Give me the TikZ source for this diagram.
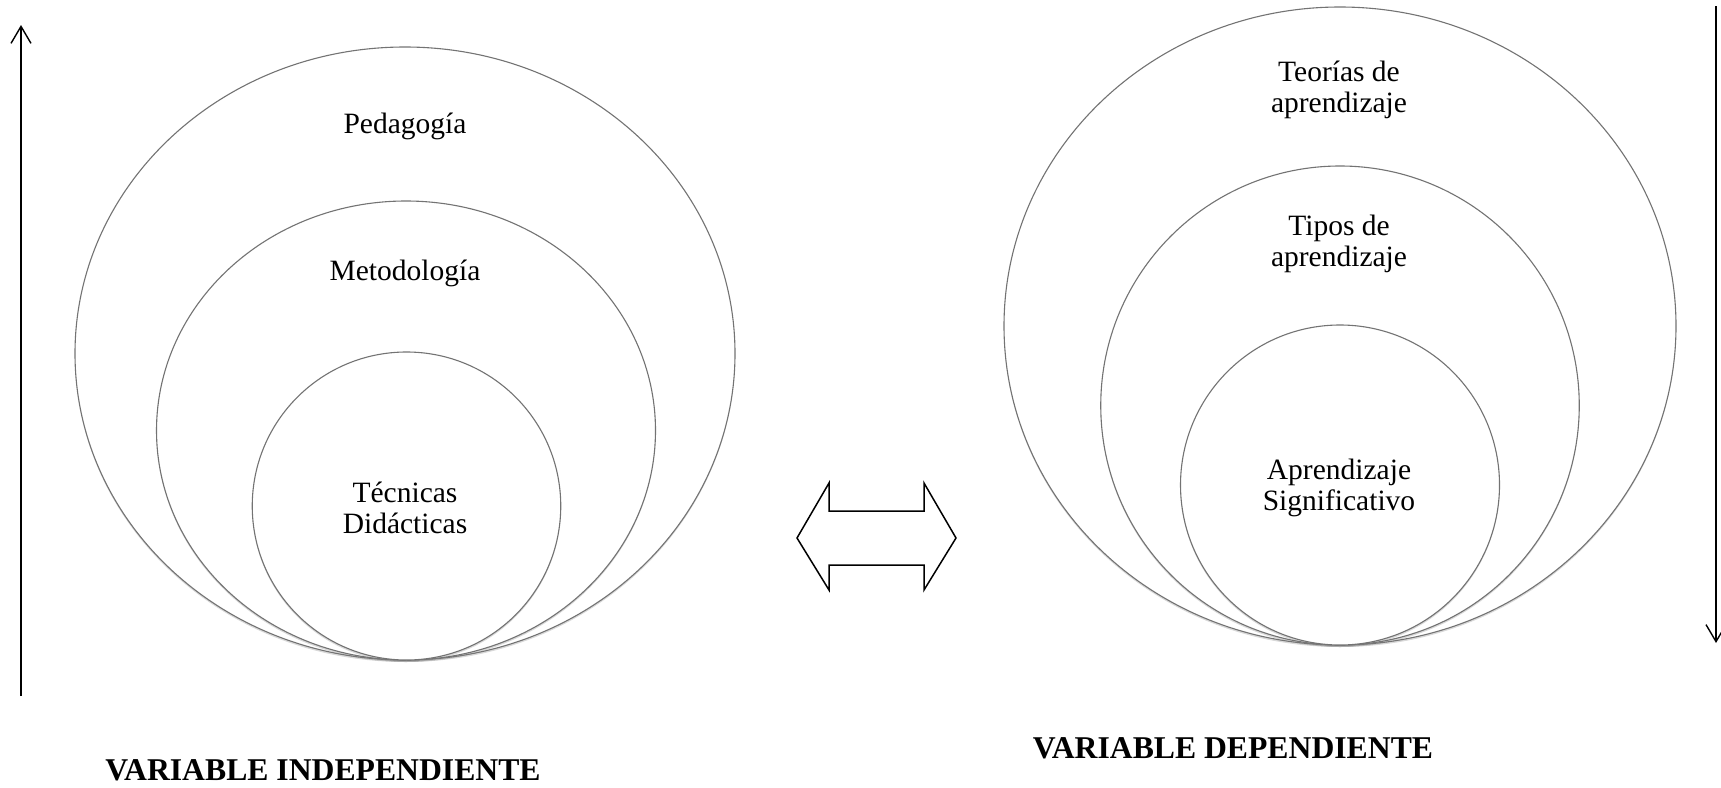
\documentclass[tikz,border=0pt]{standalone}
\usepackage{fontspec}
\setmainfont{Liberation Serif}
\usetikzlibrary{shapes.geometric,arrows.meta,shadows}
\begin{document}
\begin{tikzpicture}[x=1pt,y=-1pt,
  ring/.style={ellipse,draw=black!55,line width=1.1pt,fill=white,inner sep=0pt,outer sep=0pt,
    drop shadow={shadow xshift=0pt,shadow yshift=-2pt,opacity=0.3}},
  lbl/.style={align=center,font=\fontsize{29.5}{31}\selectfont,inner sep=0pt},
  vlbl/.style={font=\fontsize{31.7}{34}\selectfont\bfseries,inner sep=0pt},
  axis/.style={line width=1.6pt,-{Straight Barb[length=17pt,width=20pt,line width=1.4pt]}},
  dbl/.style={draw=black,line width=1.5pt,line join=miter}]
\useasboundingbox (0,0) rectangle (1721,787);
% left set
\node[ring,minimum width=660pt,minimum height=613pt] (L1) at (405,353.5) {};
\node[ring,minimum width=499pt,minimum height=459pt] (L2) at (406,430.5) {};
\node[ring,minimum width=308.5pt,minimum height=308pt] (L3) at (406.5,506) {};
\node[lbl] (tL1) at (405,126) {Pedagogía};
\node[lbl] (tL2) at (405,273.5) {Metodología};
\node[lbl] (tL3) at (405,507.5) {Técnicas\\Didácticas};
% right set
\node[ring,minimum width=672pt,minimum height=638pt] (R1) at (1340,326) {};
\node[ring,minimum width=478.5pt,minimum height=479pt] (R2) at (1340,405.5) {};
\node[ring,minimum width=319pt,minimum height=320pt] (R3) at (1340,485) {};
\node[lbl] (tR1) at (1339,90) {Teorías de\\aprendizaje};
\node[lbl] (tR2) at (1339,244) {Tipos de\\aprendizaje};
\node[lbl] (tR3) at (1339,488) {Aprendizaje\\Significativo};
% labels
\node[vlbl] (vi) at (323,770) {VARIABLE INDEPENDIENTE};
\node[vlbl] (vd) at (1233,748) {VARIABLE DEPENDIENTE};
% vertical arrows
\coordinate (a1) at (21,696);
\coordinate (a2) at (21,25);
\coordinate (b1) at (1716,6);
\coordinate (b2) at (1716,643);
\draw[axis] (a1) -- (a2);
\draw[axis] (b1) -- (b2);
% double arrow
\draw[dbl] (797,538) -- (829,483) -- (829,511) -- (924,511) -- (924,483) -- (956,538)
  -- (924,590) -- (924,565) -- (829,565) -- (829,590) -- cycle;
\end{tikzpicture}
\end{document}
